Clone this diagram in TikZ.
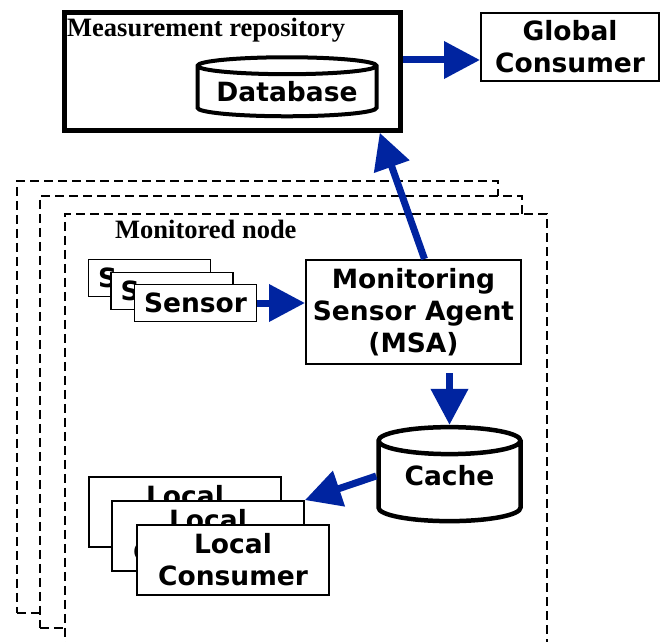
\documentclass[tikz,border=0pt]{standalone}
\usepackage{fontspec}
\setmainfont{Liberation Serif}
\newfontfamily\diagsans{DejaVu Sans}
\usetikzlibrary{positioning, shapes.geometric, arrows.meta}
\definecolor{flowblue}{RGB}{0,36,160}
\tikzstyle{box}=[rectangle, draw=black, fill=white, inner sep=0pt, align=center, font=\diagsans\bfseries\fontsize{26.5}{32}\selectfont]
\tikzstyle{store}=[cylinder, shape border rotate=90, draw=black, fill=white, inner sep=0pt, font=\diagsans\bfseries\fontsize{26.5}{32}\selectfont]
\tikzstyle{hostframe}=[rectangle, draw=black, fill=white, dash pattern=on 9pt off 5pt, line width=1.5pt, anchor=north west, inner sep=0pt]
\tikzstyle{title}=[font=\bfseries\fontsize{26.5}{30}\selectfont, anchor=base west, inner sep=0pt]
\tikzstyle{flow}=[draw=flowblue, line width=7pt, -{Triangle[length=36pt, width=36pt]}]

\begin{document}
\begin{tikzpicture}[x=1pt, y=-1pt]
                \useasboundingbox (0,0) rectangle (664,642);
                \clip (0,0) rectangle (664,642);

                % Repository
                \node[box, line width=4.5pt, minimum width=336pt, minimum height=118pt] (repo) at (232.5,71.5) {};
                \node[title] (repotitle) at (67,37) {Measurement repository};
                \node[store, line width=4pt, minimum width=179pt, minimum height=59pt, aspect=0.12] (db) at (287,92) {Database};
                \node[box, line width=2pt, minimum width=178pt, minimum height=68pt] (global) at (570,47) {Global\\Consumer};

                % Noeuds surveilles
                \node[hostframe, minimum width=481pt, minimum height=432pt] (host1) at (16,180) {};
                \node[hostframe, minimum width=482pt, minimum height=432pt] (host2) at (39,195) {};
                \node[hostframe, minimum width=482pt, minimum height=470pt] (host3) at (64,213) {};
                \node[title] (hosttitle) at (115,238) {Monitored node};

                % Capteurs
                \node[box, line width=1.5pt, minimum width=122pt, minimum height=37pt] (sensor1) at (149.5,278) {Sensor};
                \node[box, line width=1.5pt, minimum width=122pt, minimum height=37pt] (sensor2) at (172,291) {Sensor};
                \node[box, line width=1.5pt, minimum width=122pt, minimum height=37pt] (sensor3) at (195.5,303) {Sensor};
                \node[box, line width=2pt, minimum width=215pt, minimum height=104pt] (msa) at (413.5,312) {Monitoring\\Sensor Agent\\(MSA)};
                \node[store, line width=4.5pt, minimum width=142pt, minimum height=94pt, aspect=0.3] (cache) at (449.5,482) {\raisebox{14pt}{Cache}};

                % Consommateurs locaux
                \node[box, line width=1.8pt, minimum width=192pt, minimum height=70pt] (local1) at (185,512) {Local\\Consumer};
                \node[box, line width=1.8pt, minimum width=192pt, minimum height=70pt] (local2) at (208,536) {Local\\Consumer};
                \node[box, line width=1.8pt, minimum width=192pt, minimum height=70pt] (local3) at (233,560) {Local\\Consumer};

                % Fleches
                \draw[flow] ([yshift=11.5pt]repo.east) -- ([yshift=-13pt]global.west);
                \draw[flow] ([xshift=11pt]msa.north) -- ([xshift=-23pt]repo.south east);
                \draw[flow] (sensor3.east) -- (sensor3.east -| msa.west);
                \draw[flow] ([yshift=-8pt]msa.south -| cache.north) -- (cache.north);
                \draw[flow] ([yshift=6pt]cache.west) -- (local2.north east);
            \end{tikzpicture}
\end{document}
